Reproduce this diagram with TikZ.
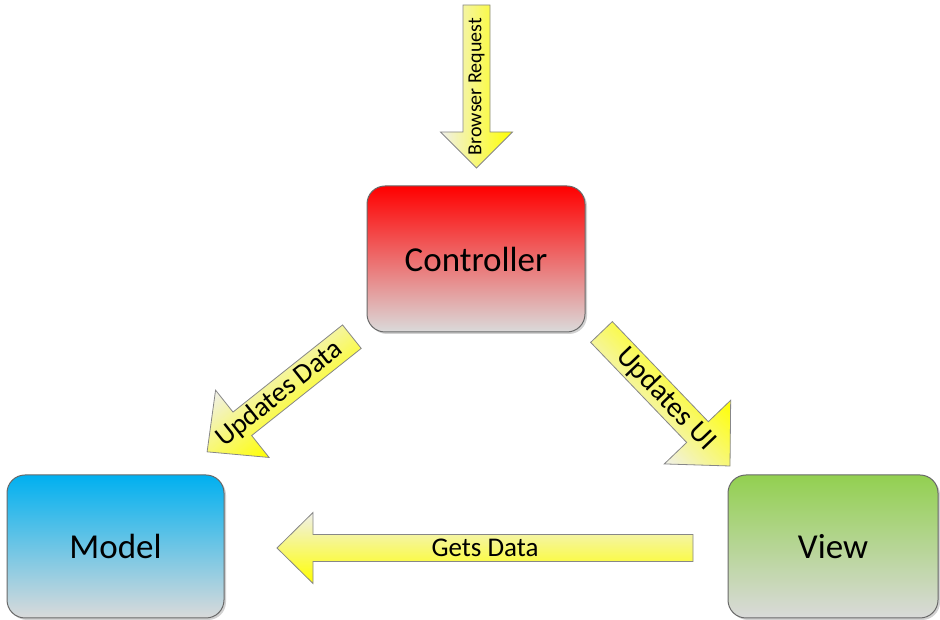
\documentclass[tikz,border=0pt]{standalone}
\usepackage{fontspec}
\setmainfont{Carlito}
\usetikzlibrary{shadows}
\definecolor{ctrtop}{RGB}{255,0,0}
\definecolor{boxbot}{RGB}{218,218,218}
\definecolor{modtop}{RGB}{0,176,240}
\definecolor{viewtop}{RGB}{146,208,80}
\definecolor{arrY}{RGB}{255,255,0}
\definecolor{arrP}{RGB}{240,240,235}
\definecolor{edgec}{RGB}{105,105,105}
\tikzset{
  mvcbox/.style={draw=edgec, line width=1pt, rounded corners=18pt,
    bottom color=boxbot, inner sep=0pt,
    drop shadow={shadow xshift=2pt, shadow yshift=-2pt, opacity=0.18, fill=black},
    font=\fontsize{35}{42}\selectfont},
  arrowbody/.style={draw=edgec!80, line width=0.8pt, top color=arrY, bottom color=arrP},
  arrowtext/.style={inner sep=0pt}
}
\begin{document}
\begin{tikzpicture}[x=1pt,y=1pt]
\useasboundingbox (0,0) rectangle (940,620);

% boxes
\node[mvcbox, top color=ctrtop, minimum width=218pt, minimum height=146pt] (ctrl) at (476,361) {Controller};
\node[mvcbox, top color=modtop, minimum width=217pt, minimum height=143pt] (model) at (115.5,73.5) {Model};
\node[mvcbox, top color=viewtop, minimum width=210pt, minimum height=143pt] (view) at (833,73.5) {View};

% arrow bodies
\begin{scope}[transform canvas={shift={(476.5,533.5)},rotate=-90}]
  \shade[arrowbody] (-81.5,-13.5) -- (45.5,-13.5) -- (45.5,-36) -- (81.5,0) -- (45.5,36) -- (45.5,13.5) -- (-81.5,13.5) -- cycle;
\end{scope}
\begin{scope}[transform canvas={shift={(485,72)},rotate=180}]
  \shade[arrowbody] (-208,-13.5) -- (172,-13.5) -- (172,-35.5) -- (208,0) -- (172,35.5) -- (172,13.5) -- (-208,13.5) -- cycle;
\end{scope}
\begin{scope}[transform canvas={shift={(279.5,225.75)},rotate=218.5}]
  \shade[arrowbody] (-92.5,-15) -- (47.5,-15) -- (47.5,-43) -- (92.5,0) -- (47.5,43) -- (47.5,15) -- (-92.5,15) -- cycle;
\end{scope}
\begin{scope}[transform canvas={shift={(665.75,221)},rotate=-46.2}]
  \shade[arrowbody] (-92.85,-15) -- (45.85,-15) -- (45.85,-46) -- (92.85,0) -- (45.85,46) -- (45.85,15) -- (-92.85,15) -- cycle;
\end{scope}

% arrow labels
\node[arrowtext, rotate=90, font=\fontsize{20}{23}\selectfont] (req) at (476.5,533.5) {Browser Request};
\node[arrowtext, font=\fontsize{27}{31}\selectfont] (gets) at (485,72) {Gets Data};
\node[arrowtext, rotate=38.5, font=\fontsize{28}{32}\selectfont] (upd) at (279.5,225.75) {Updates Data};
\node[arrowtext, rotate=-46.2, font=\fontsize{29}{33}\selectfont] (upui) at (665.75,221) {Updates UI};
\end{tikzpicture}
\end{document}
